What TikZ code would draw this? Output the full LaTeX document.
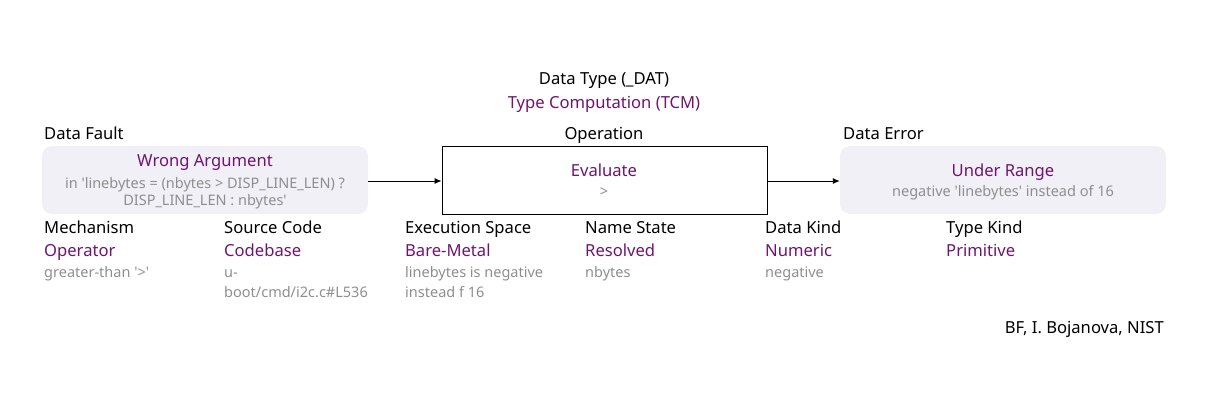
\documentclass[tikz,border=0pt]{standalone}
\usepackage{fontspec}
\newfontfamily\nf{Noto Sans}
\usetikzlibrary{arrows.meta}
\definecolor{pur}{HTML}{6E1470}
\definecolor{gtxt}{HTML}{8E8E8E}
\definecolor{boxfill}{HTML}{F2F0F7}
\tikzset{
  base/.style={inner sep=0pt, text height=14pt, text depth=2pt},
  lbl/.style={base, font=\nf\fontsize{16.6}{19}\selectfont, text=black},
  plbl/.style={base, font=\nf\fontsize{16.6}{19}\selectfont, text=pur},
  glbl/.style={base, font=\nf\fontsize{14.5}{17}\selectfont, text=gtxt, text height=14pt, text depth=1pt},
  rbox/.style={fill=boxfill, rounded corners=10pt, draw=none},
  sbox/.style={draw=black, line width=0.9pt, fill=white},
  conn/.style={-{Latex[length=7pt,width=6pt]}, line width=0.9pt}
}
\begin{document}
\begin{tikzpicture}[x=1pt,y=-1pt]
\useasboundingbox (0,0) rectangle (1207,400);
\node[lbl] (dat) at (604,78) {Data Type (\_DAT)};
\node[plbl] (tcm) at (604,102) {Type Computation (TCM)};
% left
\node[lbl,anchor=west] (fault) at (44,133) {Data Fault};
\node[rbox, minimum width=326pt, minimum height=68pt] (fbox) at (205,180) {};
\node[plbl] (fname) at (205,160) {Wrong Argument};
\node[glbl] (fdesc1) at (205,182) {in 'linebytes = (nbytes > DISP\_LINE\_LEN) ?};
\node[glbl] (fdesc2) at (205,199) {DISP\_LINE\_LEN : nbytes'};
% middle
\node[lbl] (op) at (604,133) {Operation};
\node[sbox, minimum width=325pt, minimum height=68pt] (obox) at (604.5,180) {};
\node[plbl] (oname) at (604,170) {Evaluate};
\node[glbl] (odesc) at (604,190) {>};
% right
\node[lbl,anchor=west] (err) at (843,133) {Data Error};
\node[rbox, minimum width=326pt, minimum height=68pt] (ebox) at (1003,180) {};
\node[plbl] (ename) at (1003,170) {Under Range};
\node[glbl] (edesc) at (1003,190) {negative 'linebytes' instead of 16};
% connectors
\draw[conn] (fbox.east |- 0,181) -- (obox.west |- 0,181);
\draw[conn] (obox.east |- 0,181) -- (ebox.west |- 0,181);
% bottom attributes
\node[lbl,anchor=west] (m1) at (44,227) {Mechanism};
\node[plbl,anchor=west] (m2) at (44,250) {Operator};
\node[glbl,anchor=west] (m3) at (44,271) {greater-than '>'};
\node[lbl,anchor=west] (s1) at (224,227) {Source Code};
\node[plbl,anchor=west] (s2) at (224,250) {Codebase};
\node[glbl,anchor=west] (s3) at (224,271) {u-};
\node[glbl,anchor=west] (s4) at (224,291) {boot/cmd/i2c.c\#L536};
\node[lbl,anchor=west] (x1) at (405,227) {Execution Space};
\node[plbl,anchor=west] (x2) at (405,250) {Bare-Metal};
\node[glbl,anchor=west] (x3) at (405,271) {linebytes is negative};
\node[glbl,anchor=west] (x4) at (405,291) {instead f 16};
\node[lbl,anchor=west] (n1) at (585,227) {Name State};
\node[plbl,anchor=west] (n2) at (585,250) {Resolved};
\node[glbl,anchor=west] (n3) at (585,271) {nbytes};
\node[lbl,anchor=west] (d1) at (765,227) {Data Kind};
\node[plbl,anchor=west] (d2) at (765,250) {Numeric};
\node[glbl,anchor=west] (d3) at (765,271) {negative};
\node[lbl,anchor=west] (t1) at (946,227) {Type Kind};
\node[plbl,anchor=west] (t2) at (946,250) {Primitive};
\node[lbl,anchor=east] (cred) at (1164,327) {BF, I. Bojanova, NIST};
\end{tikzpicture}
\end{document}
